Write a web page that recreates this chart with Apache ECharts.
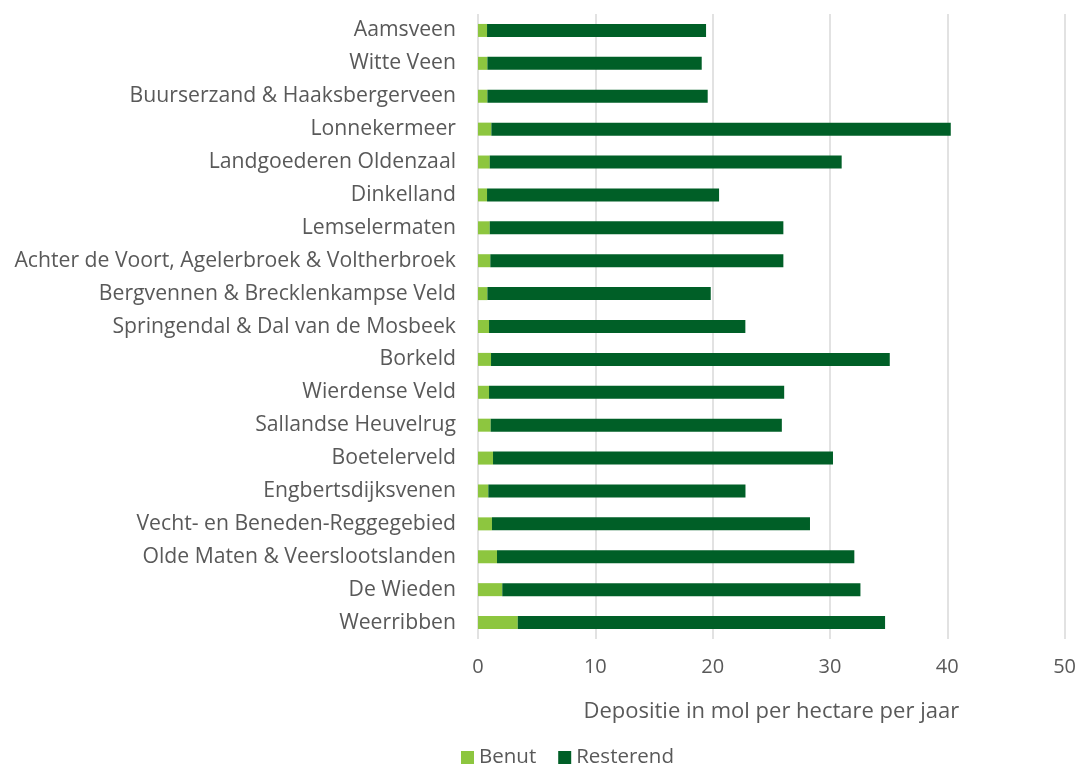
<!DOCTYPE html>
<html>
<head>
<meta charset="utf-8">
<script src="https://cdn.jsdelivr.net/npm/echarts@6/dist/echarts.min.js"></script>
<style>
  html, body { margin: 0; padding: 0; background: #fff; }
  #chart { width: 1079px; height: 769px; }
</style>
</head>
<body>
<div id="chart"></div>
<script>
// gebieden, van boven naar beneden
var gebieden = [
	'Aamsveen', 'Witte Veen', 'Buurserzand & Haaksbergerveen', 'Lonnekermeer',
	'Landgoederen Oldenzaal', 'Dinkelland', 'Lemselermaten',
	'Achter de Voort, Agelerbroek & Voltherbroek', 'Bergvennen & Brecklenkampse Veld',
	'Springendal & Dal van de Mosbeek', 'Borkeld', 'Wierdense Veld', 'Sallandse Heuvelrug',
	'Boetelerveld', 'Engbertsdijksvenen', 'Vecht- en Beneden-Reggegebied',
	'Olde Maten & Veerslootslanden', 'De Wieden', 'Weerribben'
];
var benut = [0.77, 0.8, 0.8, 1.14, 1.0, 0.77, 1.0, 1.05, 0.8, 0.94,
	1.11, 0.94, 1.08, 1.28, 0.88, 1.19, 1.62, 2.07, 3.39];
var resterend = [18.67, 18.27, 18.78, 39.16, 30.0, 19.78, 25.03, 24.98, 19.04, 21.85,
	33.99, 25.16, 24.82, 28.98, 21.92, 27.11, 30.46, 30.53, 31.31];
var xTicks = [0, 10, 20, 30, 40, 50];

var grijs = '#595959';
var lettertype = '"Open Sans", "Noto Sans", sans-serif';

var myChart = echarts.init(document.getElementById('chart'));
var option = {
	animation: false,
	textStyle: { fontFamily: lettertype },
	grid: { left: 478, right: 14, top: 14, bottom: 130, containLabel: false },
	legend: {
		bottom: -4,
		left: 456,
		itemWidth: 13,
		itemHeight: 13,
		itemGap: 22,
		icon: 'rect',
		textStyle: { color: grijs, fontSize: 20.5, fontFamily: lettertype },
		data: ['Benut', 'Resterend']
	},
	xAxis: {
		type: 'value',
		min: xTicks[0],
		max: xTicks[xTicks.length - 1],
		interval: 10,
		name: 'Depositie in mol per hectare per jaar',
		nameLocation: 'middle',
		nameGap: 62,
		nameTextStyle: { color: grijs, fontSize: 22 },
		axisLine: { show: false },
		axisTick: { show: false },
		axisLabel: { color: grijs, fontSize: 20, margin: 18 },
		splitLine: { lineStyle: { color: '#d9d9d9', width: 1.5 } }
	},
	yAxis: {
		type: 'category',
		inverse: true,
		data: gebieden,
		axisLine: { show: false },
		axisTick: { show: false },
		axisLabel: { color: grijs, fontSize: 21.2, margin: 22 }
	},
	series: [
		{
			name: 'Benut',
			type: 'bar',
			stack: 'totaal',
			barWidth: 13,
			itemStyle: { color: '#8dc63f' },
			data: benut
		},
		{
			name: 'Resterend',
			type: 'bar',
			stack: 'totaal',
			barWidth: 13,
			itemStyle: { color: '#005f27' },
			data: resterend
		}
	]
};
myChart.setOption(option);
</script>
</body>
</html>
